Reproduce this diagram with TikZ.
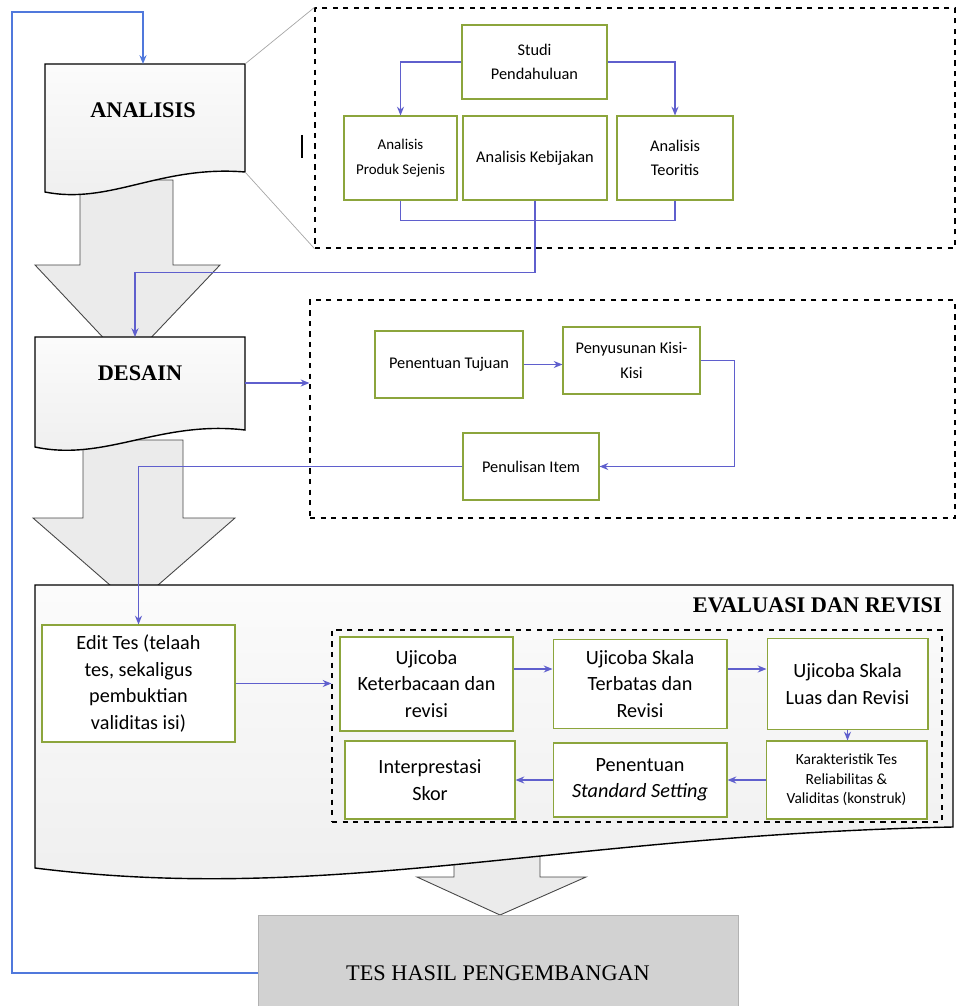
\documentclass[tikz,border=0pt]{standalone}
\usepackage{fontspec}
\setmainfont{Liberation Serif}
\newfontfamily\calfont{Carlito}
\usetikzlibrary{arrows.meta}
\definecolor{boxgreen}{RGB}{140,165,60}
\definecolor{linkblue}{RGB}{95,95,205}
\definecolor{backblue}{RGB}{80,120,220}
\tikzset{
  box/.style={draw=boxgreen, line width=0.6pt, fill=white, align=center, inner sep=2pt,
    font=\calfont\fontsize{9.3}{14}\selectfont},
  smallbox/.style={box, inner sep=1pt, font=\calfont\fontsize{8.5}{14}\selectfont},
  bigbox/.style={box, font=\calfont\fontsize{11.5}{15}\selectfont},
  tinybox/.style={box, inner sep=1pt, font=\calfont\fontsize{8.8}{11}\selectfont},
  dashbox/.style={draw, dashed, line width=0.7pt},
  link/.style={draw=linkblue, line width=0.7pt, -{Stealth[length=5pt,width=4pt]}},
  bigarrow/.style={draw=gray!55!black, line width=0.5pt, fill=gray!16},
  docshape/.style={draw, line width=0.8pt, top color=gray!3, bottom color=gray!13},
  title/.style={font=\fontsize{12.7}{14}\selectfont\bfseries},
}
\begin{document}
\begin{tikzpicture}[x=0.02cm, y=-0.02cm]
\useasboundingbox (0,0) rectangle (957,1006);

% block arrows
\draw[bigarrow] (80,180) -- (80,265) -- (35,265) -- (127,363) -- (220,265)
    -- (173,265) -- (173,180) -- cycle;
\draw[bigarrow] (83,440) -- (83,518) -- (33,518) -- (134,606) -- (235,518)
    -- (183,518) -- (183,440) -- cycle;
\draw[bigarrow] (454,850) -- (454,877) -- (417,877) -- (500,915) -- (586,877)
    -- (540,877) -- (540,850) -- cycle;

% stages
\draw[docshape] (45,64) -- (245,64) -- (245,172)
    .. controls (160,165) and (110,205) .. (45,192) -- cycle;
\draw[docshape] (35,337) -- (245,337) -- (245,430)
    .. controls (160,420) and (105,462) .. (35,447) -- cycle;
\draw[docshape] (35,585) -- (953,585) -- (953,827)
    .. controls (560,835) and (330,905) .. (35,868) -- cycle;
\node[title] (analisis) at (143,110) {ANALISIS};
\node[title] (desain) at (140,373) {DESAIN};
\node[title, anchor=east] (evaluasi) at (948,605) {EVALUASI DAN REVISI};

\coordinate (atop) at (143,64);
\coordinate (acorner1) at (245,64);
\coordinate (acorner2) at (245,172);
\coordinate (dtop) at (135,337);
\coordinate (dright) at (245,383);
\coordinate (corner) at (12,12);

% detail frames
\node[dashbox, minimum width=12.8cm, minimum height=4.8cm] (da) at (635,128) {};
\node[dashbox, minimum width=12.9cm, minimum height=4.36cm] (db) at (632.5,409) {};
\node[dashbox, minimum width=12.2cm, minimum height=3.84cm] (dc) at (637,726) {};
\draw[gray!70] (acorner1) -- (da.north west);
\draw[gray!70] (acorner2) -- (da.south west);
\draw[line width=0.8pt] (302,135) -- (302,158);

\foreach \n/\x/\y/\w/\h/\sty/\t in
    {sp/534.5/62/2.9/1.48/box/{Studi\\Pendahuluan},
     aps/400.5/158/2.26/1.68/smallbox/{Analisis\\Produk Sejenis},
     ak/535/158/2.88/1.68/box/{Analisis Kebijakan},
     teori/675/158/2.32/1.68/box/{Analisis\\Teoritis},
     pt/449/364.5/2.96/1.34/box/{Penentuan Tujuan},
     pkk/631.5/360.5/2.74/1.34/box/{Penyusunan Kisi-\\Kisi},
     item/531/466.5/2.72/1.34/box/{Penulisan Item},
     edit/138.5/683.5/3.86/2.34/bigbox/{Edit Tes (telaah\\tes, sekaligus\\pembuktian\\validitas isi)},
     uk/426.5/684/3.46/1.88/bigbox/{Ujicoba\\Keterbacaan dan\\revisi},
     ust/640/684/3.48/1.78/bigbox/{Ujicoba Skala\\Terbatas dan\\Revisi},
     usl/847.5/684/3.22/1.82/bigbox/{Ujicoba Skala\\Luas dan Revisi},
     skor/430/780/3.4/1.56/bigbox/{Interprestasi\\Skor},
     pss/640/780/3.48/1.48/bigbox/{Penentuan\\\textit{Standard Setting}},
     kar/846.5/780/3.22/1.56/tinybox/{Karakteristik Tes\\Reliabilitas \&\\Validitas (konstruk)}}
    {
        \node[\sty, minimum width=\w cm, minimum height=\h cm] (\n) at (\x,\y) {\t};
    }

% connectors
\draw[link] (sp.west) -| (aps.north);
\draw[link] (sp.east) -| (teori.north);
\draw[linkblue, line width=0.7pt] (aps.south) -- ++(0,20) -| (teori.south);
\draw[link] (ak.south) -- ++(0,72) -| (dtop);
\draw[link] (dright) -- (dright -| db.west);
\draw[link] (pt.east) -- (pt.east -| pkk.west);
\draw[link] (pkk.east) -- ++(34,0) |- (item.east);
\draw[link] (item.west) -| (edit.north);
\draw[link] (edit.east) -- (edit.east -| dc.west);
\draw[link] ([yshift=3mm]uk.east) -- ([yshift=3mm]ust.west);
\draw[link] ([yshift=3mm]ust.east) -- ([yshift=3mm]usl.west);
\draw[link] (usl.south) -- (usl.south |- kar.north);
\draw[link] (kar.west) -- (pss.east);
\draw[link] (pss.west) -- (skor.east);

% result
\node[draw=gray!60, fill=gray!35, minimum width=9.6cm, minimum height=2.3cm,
    font=\fontsize{12.7}{14}\selectfont] (tes) at (498,973) {TES HASIL PENGEMBANGAN};
\draw[backblue, line width=0.8pt, -{Stealth[length=5pt,width=4pt]}]
    (tes.west) -| (corner) -| (atop);
\end{tikzpicture}
\end{document}
